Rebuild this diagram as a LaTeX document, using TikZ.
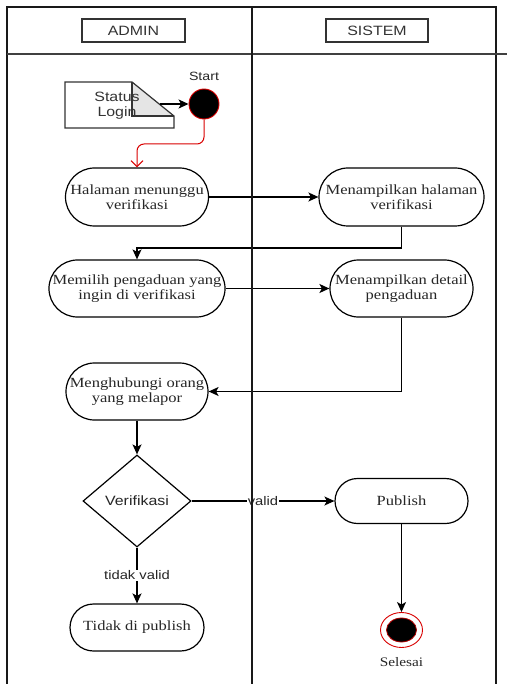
\documentclass[tikz,border=0pt]{standalone}
\usepackage{fontspec}
\setmainfont{Liberation Serif}[FakeStretch=1.18]
\newfontfamily\sansf{Liberation Sans}[FakeStretch=1.18]
\usetikzlibrary{shapes.misc,shapes.geometric,arrows.meta}

\tikzset{
  x=1pt, y=-1pt,
  stadium/.style={rounded rectangle, draw, line width=1.2pt, inner sep=0pt,
    align=center, text=black!85, font=\fontsize{14}{15}\selectfont},
  lanebox/.style={draw=black!80, line width=1.2pt, minimum width=103, minimum height=23,
    inner sep=0pt, text=black!80, font=\sansf\fontsize{13.5}{15}\selectfont},
  flow/.style={line width=1.3pt, -{Stealth[length=10pt,width=9pt,inset=2.5pt]}},
  redflow/.style={draw=red!85!black, line width=1pt, rounded corners=7,
    -{Straight Barb[length=6pt,width=12pt]}},
  edgelabel/.style={fill=white, inner sep=1pt, text=black!85,
    font=\sansf\fontsize{12.5}{14}\selectfont},
  lane/.style={line width=1.5pt, draw=black!90}
}

\begin{document}
\begin{tikzpicture}
\useasboundingbox (0,0) rectangle (507,684);
\fill[white] (0,0) rectangle (507,684);

% lane headers
\node[lanebox] (admin) at (133.5,30.5) {ADMIN};
\node[lanebox, minimum width=102] (sistem) at (377,30.5) {SISTEM};

% note "Status Login"
\coordinate (nA) at (65,82);
\coordinate (nB) at (132,82);
\coordinate (nC) at (174,116);
\coordinate (nD) at (174,128);
\coordinate (nE) at (65,128);
\coordinate (nF) at (132,116);
\coordinate (nOut) at (160,104);
\fill[black!10] (nB) -- (nC) -- (nF) -- cycle;
\draw[line width=1.2pt, draw=black!80] (nA) -- (nB) -- (nC) -- (nD) -- (nE) -- cycle;
\draw[line width=1.2pt, draw=black!80] (nB) -- (nF) -- (nC);
\node[align=center, text=black!80, font=\sansf\fontsize{13.5}{15}\selectfont, inner sep=0pt]
  (note) at (117,105.5) {Status\\Login};

% start
\node[circle, fill=black, draw=red!85!black, line width=0.9pt, minimum size=30, inner sep=0pt]
  (st) at (204,104) {};
\node[font=\sansf\fontsize{12}{13}\selectfont, text=black!85, inner sep=0pt]
  (stlbl) at (204,76) {Start};

% activities
\node[stadium, minimum width=143, minimum height=58] (hal) at (137,197)
  {Halaman menunggu\\verifikasi};
\node[stadium, minimum width=165, minimum height=58] (menhal) at (401.5,197)
  {Menampilkan halaman\\verifikasi};
\node[stadium, minimum width=175, minimum height=57] (mem) at (137,288.5)
  {Memilih pengaduan yang\\ingin di verifikasi};
\node[stadium, minimum width=143, minimum height=57] (mendet) at (401.5,288.5)
  {Menampilkan detail\\pengaduan};
\node[stadium, minimum width=142, minimum height=57] (mengh) at (137,391.5)
  {Menghubungi orang\\yang melapor};
\node[diamond, draw, line width=1.2pt, minimum width=108, minimum height=92, inner sep=0pt,
  text=black!85, font=\sansf\fontsize{13.5}{15}\selectfont] (ver) at (137,501) {Verifikasi};
\node[stadium, minimum width=133, minimum height=45] (pub) at (401.5,501) {Publish};
\node[stadium, minimum width=134, minimum height=47] (tidak) at (137,627.5) {Tidak di publish};

% end
\node[ellipse, draw=red!85!black, line width=0.9pt, minimum width=42, minimum height=35,
  inner sep=0pt] (fin) at (401.5,630) {};
\node[ellipse, fill=black, draw=red!70!black, line width=0.8pt, minimum width=30,
  minimum height=24, inner sep=0pt] (fincore) at (401.5,630) {};
\node[font=\fontsize{13}{15}\selectfont, text=black!85, inner sep=0pt] (finlbl) at (401.5,662) {Selesai};

% connectors
\coordinate (r1) at (204,144);
\coordinate (c2) at (401.5,248);
\draw[flow] (nOut) -- (st.west);
\draw[redflow] (st.south) -- (r1) -| (hal.north);
\draw[flow] (hal.east) -- (menhal.west);
\draw[flow] (menhal.south) -- (c2) -| (mem.north);
\draw[flow] (mem.east) -- (mendet.west);
\draw[flow] (mendet.south) |- (mengh.east);
\draw[flow] (mengh.south) -- (ver.north);
\draw[flow] (ver.east) -- node[edgelabel] (lvalid) {valid} (pub.west);
\draw[flow] (ver.south) -- node[edgelabel] (ltidak) {tidak valid} (tidak.north);
\draw[flow] (pub.south) -- (fin.north);

% swimlane frame
\draw[lane] (7,684) -- (7,7) -- (496,7) -- (496,684);
\draw[lane, draw=black!75] (7,54) -- (507,54);
\draw[lane] (252,7) -- (252,684);
\end{tikzpicture}
\end{document}
